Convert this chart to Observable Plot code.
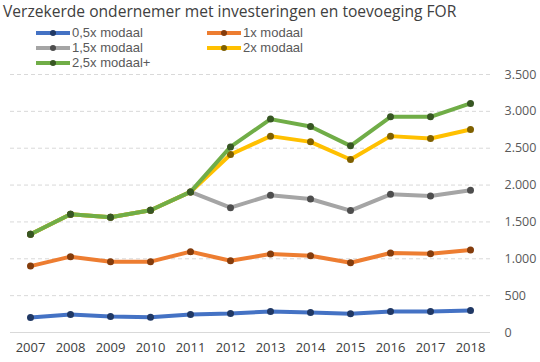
<!DOCTYPE html>
<html>
<head>
<meta charset="utf-8">
<script src="https://cdn.jsdelivr.net/npm/d3@7"></script>
<script src="https://cdn.jsdelivr.net/npm/@observablehq/plot@0.6"></script>
<style>
  html, body { margin: 0; padding: 0; background: #fff; }
  #wrap { position: relative; width: 540px; height: 362px; font-family: "Open Sans", sans-serif; }
  #title { position: absolute; left: 3px; top: 1px; font-size: 15.6px; line-height: 20px; color: #404040; white-space: nowrap; }
  .leg { position: absolute; font-family: "Liberation Sans", Arial, sans-serif; font-size: 13px; line-height: 14px; height: 14px; color: #595959; white-space: nowrap; display: flex; align-items: center; }
  .leg svg { margin-right: 2px; }
</style>
</head>
<body>
<div id="wrap">
  <div id="title">Verzekerde ondernemer met investeringen en toevoeging FOR</div>
  <div id="legend"></div>
  <div id="chart"></div>
</div>
<script>
const years = ["2007","2008","2009","2010","2011","2012","2013","2014","2015","2016","2017","2018"];
const seriesNames = ["0,5x modaal","1x modaal","1,5x modaal","2x modaal","2,5x modaal+"];
const lineColors = ["#4472C4","#ED7D31","#A5A5A5","#FFC000","#70AD47"];
const dotColors = ["#203864","#843C0C","#4D4D4D","#7F6000","#375623"];
const v05 = [204, 245, 217, 208, 245, 258, 285, 272, 254, 285, 285, 299];
const v1  = [901, 1029, 961, 961, 1097, 974, 1064, 1042, 947, 1078, 1069, 1118];
const v15 = [1332, 1604, 1563, 1658, 1907, 1694, 1862, 1811, 1654, 1875, 1852, 1930];
const v2  = [1332, 1604, 1563, 1658, 1907, 2415, 2664, 2586, 2347, 2664, 2632, 2754];
const v25 = [1332, 1604, 1563, 1658, 1907, 2518, 2895, 2795, 2532, 2926, 2926, 3108];
const yTicks = [0, 500, 1000, 1500, 2000, 2500, 3000, 3500];

const allValues = [v05, v1, v15, v2, v25];
const data = [];
allValues.forEach((vals, si) => vals.forEach((v, i) => data.push({series: seriesNames[si], year: years[i], value: v})));

const nl = d3.formatLocale({decimal: ",", thousands: ".", grouping: [3], currency: ["", ""]});
const fmt = nl.format(",");

const marks = [
  Plot.ruleY(yTicks.filter(d => d > 0), {stroke: "#D9D9D9", strokeDasharray: "4,3", strokeWidth: 1}),
  Plot.ruleY([0], {stroke: "#D9D9D9", strokeWidth: 1.2}),
  Plot.axisY({anchor: "right", ticks: yTicks, tickSize: 0, tickPadding: 14, tickFormat: fmt, fontSize: 12.5, color: "#595959", label: null}),
  Plot.axisX({anchor: "bottom", tickSize: 0, tickPadding: 10, fontSize: 13, color: "#404040", label: null})
];
seriesNames.forEach((name, si) => {
  const d = data.filter(r => r.series === name);
  marks.push(Plot.line(d, {x: "year", y: "value", stroke: lineColors[si], strokeWidth: 4}));
  marks.push(Plot.dot(d, {x: "year", y: "value", fill: dotColors[si], r: 3.5}));
});

const chart = Plot.plot({
  width: 540,
  height: 362,
  marginTop: 74,
  marginBottom: 30,
  marginLeft: 10,
  marginRight: 50,
  style: {fontFamily: "Open Sans, sans-serif", background: "transparent"},
  x: {type: "point", domain: years, padding: 0.5, label: null},
  y: {domain: [0, 3500], label: null},
  marks
});
document.getElementById("chart").appendChild(chart);

// legend
const legPos = [[36, 33], [207, 33], [36, 48], [207, 48], [36, 63]];
const legend = document.getElementById("legend");
seriesNames.forEach((name, si) => {
  const el = document.createElement("div");
  el.className = "leg";
  el.style.left = legPos[si][0] + "px";
  el.style.top = (legPos[si][1] - 7) + "px";
  el.innerHTML = `<svg width="34" height="10"><line x1="0" y1="5" x2="34" y2="5" stroke="${lineColors[si]}" stroke-width="4"/><circle cx="17" cy="5" r="3" fill="${dotColors[si]}"/></svg><span>${name}</span>`;
  legend.appendChild(el);
});
</script>
</body>
</html>
